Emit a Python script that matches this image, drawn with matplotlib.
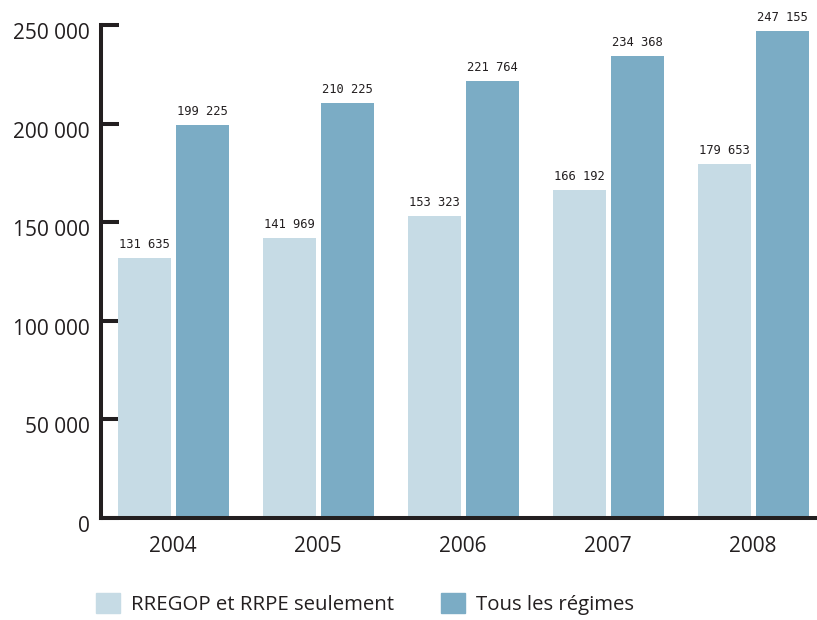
import matplotlib
matplotlib.use("Agg")
import matplotlib.pyplot as plt
import matplotlib.transforms as mtransforms
import numpy as np
from matplotlib.patches import Patch

years = ["2004", "2005", "2006", "2007", "2008"]
rregop_rrpe = [131635, 141969, 153323, 166192, 179653]
tous_regimes = [199225, 210225, 221764, 234368, 247155]
series_labels = ["RREGOP et RRPE seulement", "Tous les régimes"]
y_ticks = [0, 50000, 100000, 150000, 200000, 250000]

light = "#C6DBE5"
dark = "#7BACC5"
ink = "#231F20"

def fmt(v):
    return f"{v:,}".replace(",", " ")

fig = plt.figure(figsize=(8.17, 6.2), dpi=100)
ax = fig.add_axes([0.1236, 0.1645, 0.8764, 0.7952])

x = np.arange(len(years))
w = 0.365
off = 0.2
b1 = ax.bar(x - off, rregop_rrpe, width=w, color=light, zorder=2)
b2 = ax.bar(x + off, tous_regimes, width=w, color=dark, zorder=2)

for bars, vals in ((b1, rregop_rrpe), (b2, tous_regimes)):
    for bar, v in zip(bars, vals):
        ax.annotate(fmt(v), (bar.get_x() + bar.get_width() / 2, v),
                    xytext=(0, 5), textcoords="offset points",
                    ha="center", va="bottom", fontsize=8.7,
                    family="DejaVu Sans Mono", color=ink)

ax.set_xlim(-0.497, 4.441)
ax.set_ylim(0, 250000)
ax.set_yticks(y_ticks)
ax.set_yticklabels([fmt(t) for t in y_ticks], fontsize=15, family="Open Sans", color=ink)
ax.set_xticks(x)
ax.set_xticklabels(years, fontsize=15, family="Open Sans", color=ink)

ax.tick_params(axis="y", direction="in", length=13, width=2.9, color=ink, pad=8)
ax.tick_params(axis="x", length=0, pad=13)

# value labels sit slightly below their tick marks
shift = mtransforms.ScaledTranslation(0, -0.06, fig.dpi_scale_trans)
for lbl in ax.get_yticklabels():
    lbl.set_transform(lbl.get_transform() + shift)

for s in ("top", "right"):
    ax.spines[s].set_visible(False)
for s in ("left", "bottom"):
    ax.spines[s].set_linewidth(2.9)
    ax.spines[s].set_color(ink)

handles = [Patch(color=light), Patch(color=dark)]
fig.legend(handles, series_labels, loc="center left", bbox_to_anchor=(0.1175, 0.026),
           ncol=2, frameon=False, prop={"family": "Open Sans", "size": 14.7},
           borderpad=0, borderaxespad=0,
           handlelength=1.17, handleheight=1.12, handletextpad=0.55, columnspacing=2.3,
           labelcolor=ink)

fig.savefig("out.png", dpi=100)
